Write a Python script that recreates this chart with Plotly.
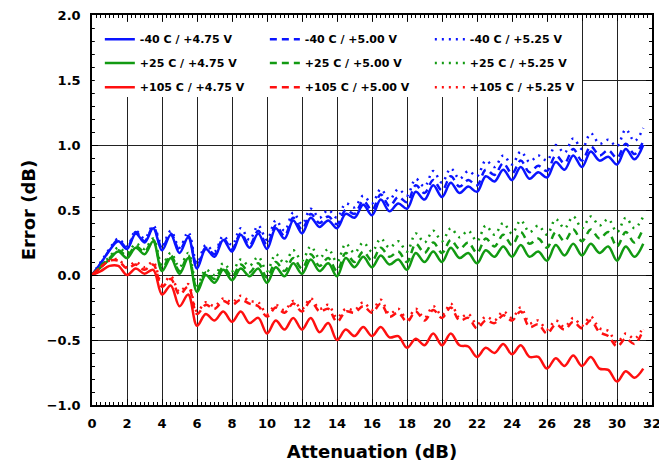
import plotly.graph_objects as go

atten_db = [0.0, 0.5, 1.0, 1.5, 2.0, 2.5, 3.0, 3.5, 4.0, 4.5, 5.0, 5.5, 6.0, 6.5, 7.0, 7.5,
            8.0, 8.5, 9.0, 9.5, 10.0, 10.5, 11.0, 11.5, 12.0, 12.5, 13.0, 13.5, 14.0, 14.5, 15.0, 15.5,
            16.0, 16.5, 17.0, 17.5, 18.0, 18.5, 19.0, 19.5, 20.0, 20.5, 21.0, 21.5, 22.0, 22.5, 23.0, 23.5,
            24.0, 24.5, 25.0, 25.5, 26.0, 26.5, 27.0, 27.5, 28.0, 28.5, 29.0, 29.5, 30.0, 30.5, 31.0, 31.5]

m40_475 = [0.00, 0.09, 0.19, 0.26, 0.20, 0.32, 0.25, 0.36, 0.19, 0.31, 0.17, 0.29, 0.05, 0.20, 0.14, 0.27,
           0.18, 0.31, 0.21, 0.32, 0.20, 0.36, 0.28, 0.42, 0.32, 0.44, 0.37, 0.42, 0.36, 0.47, 0.44, 0.54,
           0.46, 0.58, 0.49, 0.55, 0.51, 0.64, 0.58, 0.69, 0.60, 0.71, 0.63, 0.68, 0.64, 0.76, 0.72, 0.81,
           0.73, 0.83, 0.74, 0.79, 0.75, 0.87, 0.81, 0.92, 0.83, 0.95, 0.88, 0.91, 0.85, 0.97, 0.89, 1.00]
m40_500 = [0.00, 0.09, 0.19, 0.27, 0.21, 0.33, 0.26, 0.37, 0.21, 0.32, 0.19, 0.30, 0.07, 0.21, 0.16, 0.28,
           0.20, 0.32, 0.23, 0.34, 0.23, 0.38, 0.30, 0.44, 0.35, 0.47, 0.40, 0.45, 0.39, 0.50, 0.47, 0.57,
           0.50, 0.62, 0.53, 0.60, 0.56, 0.69, 0.63, 0.73, 0.65, 0.76, 0.68, 0.73, 0.69, 0.81, 0.77, 0.86,
           0.78, 0.88, 0.79, 0.84, 0.80, 0.92, 0.86, 0.97, 0.88, 0.99, 0.92, 0.96, 0.90, 1.01, 0.93, 1.03]
m40_525 = [0.00, 0.10, 0.20, 0.28, 0.22, 0.34, 0.28, 0.38, 0.23, 0.34, 0.21, 0.33, 0.09, 0.23, 0.18, 0.30,
           0.23, 0.36, 0.27, 0.38, 0.27, 0.42, 0.34, 0.48, 0.39, 0.51, 0.44, 0.50, 0.44, 0.55, 0.52, 0.61,
           0.55, 0.66, 0.58, 0.66, 0.61, 0.74, 0.68, 0.80, 0.71, 0.82, 0.74, 0.80, 0.76, 0.88, 0.83, 0.92,
           0.85, 0.95, 0.87, 0.92, 0.88, 1.00, 0.94, 1.05, 0.97, 1.09, 1.01, 1.04, 0.99, 1.12, 1.03, 1.13]

p25_475 = [0.00, 0.06, 0.12, 0.18, 0.13, 0.21, 0.16, 0.26, 0.03, 0.13, 0.01, 0.13, -0.13, 0.00, -0.06, 0.04,
           -0.04, 0.05, -0.01, 0.05, -0.06, 0.06, -0.01, 0.09, 0.01, 0.12, 0.03, 0.09, -0.01, 0.13, 0.06, 0.14,
           0.06, 0.15, 0.08, 0.12, 0.04, 0.17, 0.10, 0.18, 0.10, 0.21, 0.13, 0.17, 0.09, 0.19, 0.14, 0.22,
           0.14, 0.23, 0.14, 0.18, 0.11, 0.23, 0.15, 0.24, 0.15, 0.24, 0.17, 0.22, 0.11, 0.22, 0.14, 0.24]
p25_500 = [0.00, 0.07, 0.13, 0.19, 0.15, 0.22, 0.18, 0.27, 0.05, 0.15, 0.03, 0.15, -0.11, 0.02, -0.03, 0.06,
           -0.01, 0.08, 0.02, 0.09, -0.02, 0.10, 0.03, 0.13, 0.05, 0.16, 0.07, 0.13, 0.03, 0.17, 0.10, 0.18,
           0.11, 0.21, 0.14, 0.18, 0.10, 0.24, 0.17, 0.25, 0.17, 0.27, 0.20, 0.25, 0.17, 0.28, 0.22, 0.31,
           0.23, 0.33, 0.24, 0.28, 0.21, 0.33, 0.26, 0.35, 0.26, 0.35, 0.28, 0.33, 0.22, 0.33, 0.25, 0.36]
p25_525 = [0.00, 0.07, 0.14, 0.21, 0.17, 0.24, 0.20, 0.28, 0.08, 0.17, 0.06, 0.17, -0.08, 0.04, 0.00, 0.09,
           0.03, 0.12, 0.07, 0.14, 0.03, 0.16, 0.09, 0.19, 0.11, 0.22, 0.13, 0.20, 0.10, 0.24, 0.17, 0.25,
           0.18, 0.28, 0.21, 0.26, 0.18, 0.32, 0.25, 0.34, 0.26, 0.36, 0.29, 0.34, 0.26, 0.38, 0.31, 0.40,
           0.32, 0.42, 0.33, 0.38, 0.31, 0.43, 0.36, 0.45, 0.36, 0.45, 0.38, 0.43, 0.33, 0.44, 0.36, 0.45]

p105_475 = [0.00, 0.03, 0.07, 0.07, 0.00, 0.05, 0.01, 0.04, -0.15, -0.08, -0.24, -0.15, -0.39, -0.30, -0.35, -0.28,
            -0.36, -0.28, -0.37, -0.33, -0.45, -0.35, -0.42, -0.33, -0.42, -0.33, -0.44, -0.37, -0.50, -0.42, -0.47, -0.40,
            -0.47, -0.40, -0.48, -0.47, -0.56, -0.49, -0.54, -0.45, -0.54, -0.45, -0.54, -0.55, -0.63, -0.56, -0.60, -0.53,
            -0.61, -0.54, -0.63, -0.63, -0.72, -0.64, -0.70, -0.62, -0.70, -0.63, -0.72, -0.73, -0.82, -0.74, -0.79, -0.72]
p105_500 = [0.00, 0.06, 0.11, 0.11, 0.05, 0.08, 0.04, 0.08, -0.09, -0.03, -0.15, -0.09, -0.30, -0.23, -0.26, -0.20,
            -0.23, -0.19, -0.22, -0.24, -0.32, -0.25, -0.29, -0.22, -0.28, -0.20, -0.28, -0.26, -0.36, -0.28, -0.29, -0.24,
            -0.29, -0.22, -0.32, -0.29, -0.36, -0.28, -0.35, -0.27, -0.33, -0.25, -0.35, -0.33, -0.41, -0.35, -0.37, -0.31,
            -0.35, -0.28, -0.40, -0.38, -0.45, -0.38, -0.42, -0.36, -0.41, -0.35, -0.44, -0.47, -0.55, -0.49, -0.53, -0.42]
p105_525 = [0.00, 0.06, 0.11, 0.12, 0.06, 0.10, 0.06, 0.10, -0.07, -0.01, -0.13, -0.07, -0.28, -0.21, -0.24, -0.18,
            -0.21, -0.16, -0.20, -0.21, -0.30, -0.23, -0.27, -0.20, -0.26, -0.18, -0.26, -0.23, -0.33, -0.26, -0.27, -0.21,
            -0.27, -0.19, -0.30, -0.26, -0.34, -0.26, -0.33, -0.24, -0.31, -0.22, -0.33, -0.30, -0.38, -0.32, -0.35, -0.28,
            -0.33, -0.25, -0.37, -0.35, -0.42, -0.35, -0.40, -0.33, -0.39, -0.32, -0.41, -0.43, -0.52, -0.45, -0.49, -0.40]

x_ticks = [0, 2, 4, 6, 8, 10, 12, 14, 16, 18, 20, 22, 24, 26, 28, 30, 32]
y_ticks = [-1.0, -0.5, 0.0, 0.5, 1.0, 1.5, 2.0]

BLUE = '#0a14ff'
GREEN = '#129a12'
RED = '#ff1010'
DASH = '7px,5px'
DOT = '2px,5px'

series = [
    ('-40 C / +4.75 V', m40_475, BLUE, 'solid', 'legend'),
    ('-40 C / +5.00 V', m40_500, BLUE, DASH, 'legend'),
    ('-40 C / +5.25 V', m40_525, BLUE, DOT, 'legend'),
    ('+25 C / +4.75 V', p25_475, GREEN, 'solid', 'legend2'),
    ('+25 C / +5.00 V', p25_500, GREEN, DASH, 'legend2'),
    ('+25 C / +5.25 V', p25_525, GREEN, DOT, 'legend2'),
    ('+105 C / +4.75 V', p105_475, RED, 'solid', 'legend3'),
    ('+105 C / +5.00 V', p105_500, RED, DASH, 'legend3'),
    ('+105 C / +5.25 V', p105_525, RED, DOT, 'legend3'),
]

FONT = 'DejaVu Sans'
fig = go.Figure()
for name, vals, col, dash, leg in series:
    fig.add_trace(go.Scatter(
        x=atten_db, y=vals, name=name, mode='lines', legend=leg,
        line=dict(color=col, width=2.5, dash=dash, shape='spline', smoothing=1.0),
    ))

leg_common = dict(orientation='h', xanchor='left', yanchor='middle', bgcolor='rgba(255,255,255,0)',
                  borderwidth=0, entrywidth=120, itemwidth=30,
                  font=dict(family=FONT, size=11, color='black', weight='bold'))
fig.update_layout(
    width=659, height=460,
    margin=dict(l=84, r=15, t=7, b=63, autoexpand=False),
    paper_bgcolor='white', plot_bgcolor='white',
    font=dict(family=FONT, color='black'),
    showlegend=True,
    legend=dict(x=0.014, y=0.938, **leg_common),
    legend2=dict(x=0.014, y=0.877, **leg_common),
    legend3=dict(x=0.014, y=0.815, **leg_common),
    shapes=[dict(type='rect', xref='paper', yref='paper', x0=0.005, x1=0.875, y0=0.79, y1=0.982,
                 fillcolor='white', line=dict(width=0), layer='above')],
)
fig.update_xaxes(
    range=[0, 32], tickvals=x_ticks, ticks='inside', ticklen=6, tickwidth=1, tickcolor='black',
    showline=True, linecolor='black', linewidth=1.5, mirror='ticks', automargin=False,
    showgrid=True, gridcolor='#222222', gridwidth=1, zeroline=False, ticklabelstandoff=6,
    ticklabeloverflow='allow',
    minor=dict(dtick=0.25, ticks='inside', ticklen=3, tickcolor='black', showgrid=False),
    tickfont=dict(family=FONT, size=13, color='black', weight='bold'),
    title=dict(text='Attenuation (dB)', font=dict(family=FONT, size=18, color='black', weight='bold'), standoff=15),
)
fig.update_yaxes(
    range=[-1, 2], tickvals=y_ticks, tickformat='.1f', ticks='inside', ticklen=6, tickwidth=1, tickcolor='black',
    showline=True, linecolor='black', linewidth=1.5, mirror='ticks', automargin=False,
    showgrid=True, gridcolor='#222222', gridwidth=1, zeroline=False, ticklabelstandoff=7,
    ticklabeloverflow='allow',
    minor=dict(dtick=0.1, ticks='inside', ticklen=3, tickcolor='black', showgrid=False),
    tickfont=dict(family=FONT, size=13, color='black', weight='bold'),
    title=dict(text='Error (dB)', font=dict(family=FONT, size=18, color='black', weight='bold'), standoff=6),
)
fig.write_html('out.html')
